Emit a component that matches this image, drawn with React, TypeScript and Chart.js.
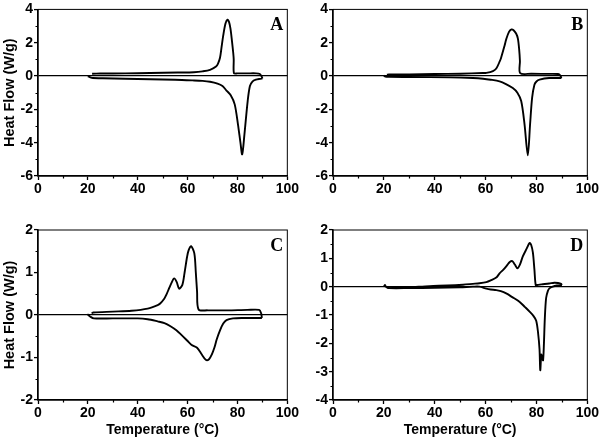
import React, { useEffect, useRef } from 'react';
import { Chart, registerables } from 'chart.js';
Chart.register(...registerables);

// ---------- axis ticks & labels ----------
const xTicks = [0, 20, 40, 60, 80, 100];
const xMinorTicks = [10, 30, 50, 70, 90];
const yTicksAB = [-6, -4, -2, 0, 2, 4];
const yMinorAB = [-5, -3, -1, 1, 3];
const yTicksC = [-2, -1, 0, 1, 2];
const yMinorC = [-1.5, -0.5, 0.5, 1.5];
const yTicksD = [-4, -3, -2, -1, 0, 1, 2];
const yMinorD = [-3.5, -2.5, -1.5, -0.5, 0.5, 1.5];
const panelLetters = ['A', 'B', 'C', 'D'];
const yAxisTitle = 'Heat Flow (W/g)';
const xAxisTitle = 'Temperature (°C)';

// ---------- Panel A ----------
const tempHeatA = [20, 20.8, 22, 26, 35, 45, 55, 62, 66, 69, 72, 74, 75.6, 77.3, 78.9, 80.2, 81.2, 81.9, 82.8, 84.1, 85, 86, 87.4, 89, 90];
const flowHeatA = [0, -0.06, -0.12, -0.13, -0.16, -0.19, -0.22, -0.26, -0.29, -0.34, -0.45, -0.6, -0.87, -1.15, -1.7, -2.9, -4.0, -4.7, -3.5, -1.5, -0.6, -0.33, -0.22, -0.17, -0.15];
const tempCoolA = [90, 89.7, 89, 87.5, 84, 80, 78.6, 78.5, 78.3, 77.8, 77.2, 76.6, 76, 75.2, 74.3, 73.6, 73, 72.2, 71.4, 69, 66, 62.5, 56, 45, 35, 25, 21.7];
const flowCoolA = [-0.15, -0.02, 0.12, 0.16, 0.16, 0.16, 0.17, 1.0, 1.4, 2.1, 2.85, 3.25, 3.38, 3.15, 2.44, 1.7, 1.1, 0.75, 0.57, 0.37, 0.28, 0.23, 0.21, 0.18, 0.16, 0.15, 0.14];

// ---------- Panel B ----------
const tempHeatB = [20, 20.6, 22, 30, 46, 55, 59, 62, 65.5, 68, 70.7, 72.5, 74, 75.3, 76.6, 77.5, 78.3, 79.2, 80, 81.2, 85, 89.8];
const flowHeatB = [0.03, -0.03, -0.05, -0.06, -0.08, -0.12, -0.16, -0.22, -0.32, -0.48, -0.72, -1.0, -1.5, -2.88, -4.76, -2.88, -1.3, -0.52, -0.33, -0.22, -0.12, -0.12];
const tempCoolB = [89.8, 89.4, 88.5, 84, 78, 73.6, 73.5, 73.2, 72.7, 72, 71, 70.2, 69.2, 68.1, 67.5, 66.1, 65.5, 64.2, 62.9, 60.3, 58.9, 50, 40, 30, 22, 21.2];
const flowCoolB = [-0.12, 0.03, 0.12, 0.13, 0.14, 0.17, 0.9, 1.6, 2.25, 2.55, 2.75, 2.8, 2.65, 2.2, 1.85, 1.1, 0.86, 0.45, 0.3, 0.19, 0.18, 0.14, 0.12, 0.1, 0.1, 0.08];

// ---------- Panel C ----------
const tempHeatC = [19.8, 21, 22.4, 30, 40, 44, 48, 50.7, 53.3, 55.5, 57.2, 59.8, 61.5, 63.8, 65.7, 67.4, 68.6, 69.7, 70.8, 71.7, 73, 74.3, 75.6, 78.2, 82, 89.8];
const flowHeatC = [0.02, -0.04, -0.08, -0.08, -0.08, -0.1, -0.15, -0.19, -0.27, -0.36, -0.45, -0.6, -0.7, -0.77, -0.93, -1.06, -1.04, -0.93, -0.76, -0.57, -0.36, -0.2, -0.12, -0.08, -0.07, -0.07];
const tempCoolC = [89.8, 89.5, 88.7, 84, 76, 68, 64.4, 63.8, 63.3, 62.7, 61.4, 60.4, 59.8, 58.8, 57.9, 56.6, 55.6, 54.6, 53.5, 52.6, 51.5, 50.7, 49, 48, 44, 37.5, 30, 22.2, 21.5];
const flowCoolC = [-0.07, 0.04, 0.12, 0.12, 0.11, 0.11, 0.13, 0.55, 1.0, 1.45, 1.62, 1.52, 1.37, 1.0, 0.71, 0.62, 0.78, 0.86, 0.75, 0.63, 0.48, 0.39, 0.27, 0.23, 0.15, 0.1, 0.08, 0.06, 0.04];

// ---------- Panel D ----------
const tempHeatD = [20, 20.4, 20.8, 22, 30, 40, 50, 55, 57.6, 60.3, 62, 64.2, 66, 68.1, 70.5, 73.3, 75.5, 77.3, 78.8, 79.9, 80.6, 81.2, 81.5, 81.9, 82.3, 82.6, 82.9, 83.3, 83.8, 84.5, 85.1, 86.4, 88, 90];
const flowHeatD = [0, 0.06, 0, -0.05, -0.05, -0.04, -0.02, 0, 0, -0.07, -0.1, -0.12, -0.16, -0.24, -0.37, -0.53, -0.72, -0.88, -1.03, -1.2, -1.6, -2.2, -2.95, -2.4, -2.55, -2.6, -2.1, -1.1, -0.4, -0.15, -0.06, 0, 0.04, 0.06];
const tempCoolD = [90, 89.7, 88.5, 87, 85, 82, 80.3, 79.7, 79.2, 78.6, 77.9, 77.3, 76.2, 74.6, 73.5, 72.5, 71.5, 70.5, 69.5, 68.5, 67, 65.5, 64.2, 62, 60.3, 57.6, 55, 51.1, 45, 38, 30, 22, 21.5];
const flowCoolD = [0.06, 0.1, 0.13, 0.14, 0.11, 0.08, 0.06, 0.06, 0.6, 1.2, 1.48, 1.54, 1.35, 1.06, 0.78, 0.65, 0.78, 0.9, 0.87, 0.76, 0.6, 0.47, 0.32, 0.22, 0.16, 0.12, 0.1, 0.07, 0.04, 0.02, -0.02, -0.05, -0.04];

const toXY = (xs: number[], ys: number[]) => xs.map((x, i) => ({ x, y: ys[i] }));

type PanelCfg = {
  left: number; top: number; w: number; h: number;
  yAxisW: number; padRight: number; padTop: number; xAxisH: number;
  yTicks: number[]; yMinor: number[];
  showYTitle: boolean; showXTitle: boolean; letter: string;
  heat: { x: number; y: number }[]; cool: { x: number; y: number }[];
};

const panels: PanelCfg[] = [
  { left: 0, top: 0, w: 300, h: 220, yAxisW: 38, padRight: 8, padTop: 7, xAxisH: 44, yTicks: yTicksAB, yMinor: yMinorAB, showYTitle: true, showXTitle: false, letter: panelLetters[0], heat: toXY(tempHeatA, flowHeatA), cool: toXY(tempCoolA, flowCoolA) },
  { left: 300, top: 0, w: 300, h: 220, yAxisW: 33, padRight: 12, padTop: 7, xAxisH: 44, yTicks: yTicksAB, yMinor: yMinorAB, showYTitle: false, showXTitle: false, letter: panelLetters[1], heat: toXY(tempHeatB, flowHeatB), cool: toXY(tempCoolB, flowCoolB) },
  { left: 0, top: 220, w: 300, h: 221, yAxisW: 38, padRight: 8, padTop: 10, xAxisH: 41, yTicks: yTicksC, yMinor: yMinorC, showYTitle: true, showXTitle: true, letter: panelLetters[2], heat: toXY(tempHeatC, flowHeatC), cool: toXY(tempCoolC, flowCoolC) },
  { left: 300, top: 220, w: 300, h: 221, yAxisW: 33, padRight: 12, padTop: 10, xAxisH: 41, yTicks: yTicksD, yMinor: yMinorD, showYTitle: false, showXTitle: true, letter: panelLetters[3], heat: toXY(tempHeatD, flowHeatD), cool: toXY(tempCoolD, flowCoolD) },
];

const SANS = '"Liberation Sans", Arial, sans-serif';

function Panel({ cfg }: { cfg: PanelCfg }) {
  const ref = useRef<HTMLCanvasElement>(null);
  useEffect(() => {
    const framePlugin = {
      id: 'frame',
      afterDraw(chart: any) {
        const { ctx, chartArea: a, scales } = chart;
        ctx.save();
        ctx.strokeStyle = '#000';
        ctx.lineWidth = 1;
        ctx.strokeRect(a.left, a.top, a.right - a.left, a.bottom - a.top);
        ctx.lineWidth = 1.2;
        ctx.beginPath();
        for (const v of xMinorTicks) {
          const px = Math.round(scales.x.getPixelForValue(v)) + 0.5;
          ctx.moveTo(px, a.bottom);
          ctx.lineTo(px, a.bottom + 2.5);
        }
        for (const v of cfg.yMinor) {
          const py = Math.round(scales.y.getPixelForValue(v)) + 0.5;
          ctx.moveTo(a.left, py);
          ctx.lineTo(a.left - 2.5, py);
        }
        ctx.stroke();
        ctx.fillStyle = '#000';
        ctx.font = 'bold 18px "Liberation Serif", "Times New Roman", serif';
        ctx.textAlign = 'right';
        ctx.textBaseline = 'alphabetic';
        ctx.fillText(cfg.letter, a.right - 4, a.top + 21);
        ctx.restore();
      },
    };
    const lineDs = (data: any[]) => ({
      data, borderColor: '#000', borderWidth: 1.9, pointRadius: 0, tension: 0.3, fill: false,
    });
    const chart = new Chart(ref.current!, {
      type: 'line',
      data: { datasets: [lineDs(cfg.heat), lineDs(cfg.cool)] as any },
      options: {
        animation: false,
        responsive: false,
        layout: { padding: { top: cfg.padTop, right: cfg.padRight, left: 0, bottom: 0 } },
        plugins: { legend: { display: false }, tooltip: { enabled: false } },
        scales: {
          x: {
            type: 'linear', min: 0, max: 100,
            afterBuildTicks: (s: any) => { s.ticks = xTicks.map((v) => ({ value: v })); },
            afterFit: (s: any) => { s.height = cfg.xAxisH; },
            ticks: { color: '#000', font: { family: SANS, size: 14, weight: 'bold' }, padding: 1, maxRotation: 0, autoSkip: false },
            grid: { drawOnChartArea: false, drawTicks: true, tickLength: 4, tickColor: '#000', tickWidth: 1.3 },
            border: { display: true, color: '#000', width: 1.5 },
            title: { display: cfg.showXTitle, text: xAxisTitle, color: '#000', font: { family: SANS, size: 14, weight: 'bold' }, padding: { top: 0, bottom: 2 } },
          },
          y: {
            type: 'linear', min: cfg.yTicks[0], max: cfg.yTicks[cfg.yTicks.length - 1],
            afterBuildTicks: (s: any) => { s.ticks = cfg.yTicks.map((v) => ({ value: v })); },
            afterFit: (s: any) => { s.width = cfg.yAxisW; },
            ticks: { color: '#000', font: { family: SANS, size: 14, weight: 'bold' }, padding: 1, autoSkip: false },
            grid: {
              drawOnChartArea: true, drawTicks: true, tickLength: 4, tickColor: '#000', tickWidth: 1.3,
              color: (c: any) => (c.tick && c.tick.value === 0 ? '#000' : 'rgba(0,0,0,0)'),
              lineWidth: 1.2,
            },
            border: { display: true, color: '#000', width: 1.5 },
            title: { display: cfg.showYTitle, text: yAxisTitle, color: '#000', font: { family: SANS, size: 14.5, weight: 'bold' }, padding: { top: 1, bottom: 0 } },
          },
        },
      } as any,
      plugins: [framePlugin],
    });
    return () => chart.destroy();
  }, []);
  return (
    <div style={{ position: 'absolute', left: cfg.left, top: cfg.top, width: cfg.w, height: cfg.h }}>
      <canvas ref={ref} width={cfg.w} height={cfg.h} style={{ display: 'block', width: cfg.w, height: cfg.h }} />
    </div>
  );
}

export default function App() {
  return (
    <div style={{ position: 'absolute', left: 0, top: 0, width: 600, height: 441, background: '#fff' }}>
      {panels.map((p, i) => (
        <Panel key={i} cfg={p} />
      ))}
    </div>
  );
}
